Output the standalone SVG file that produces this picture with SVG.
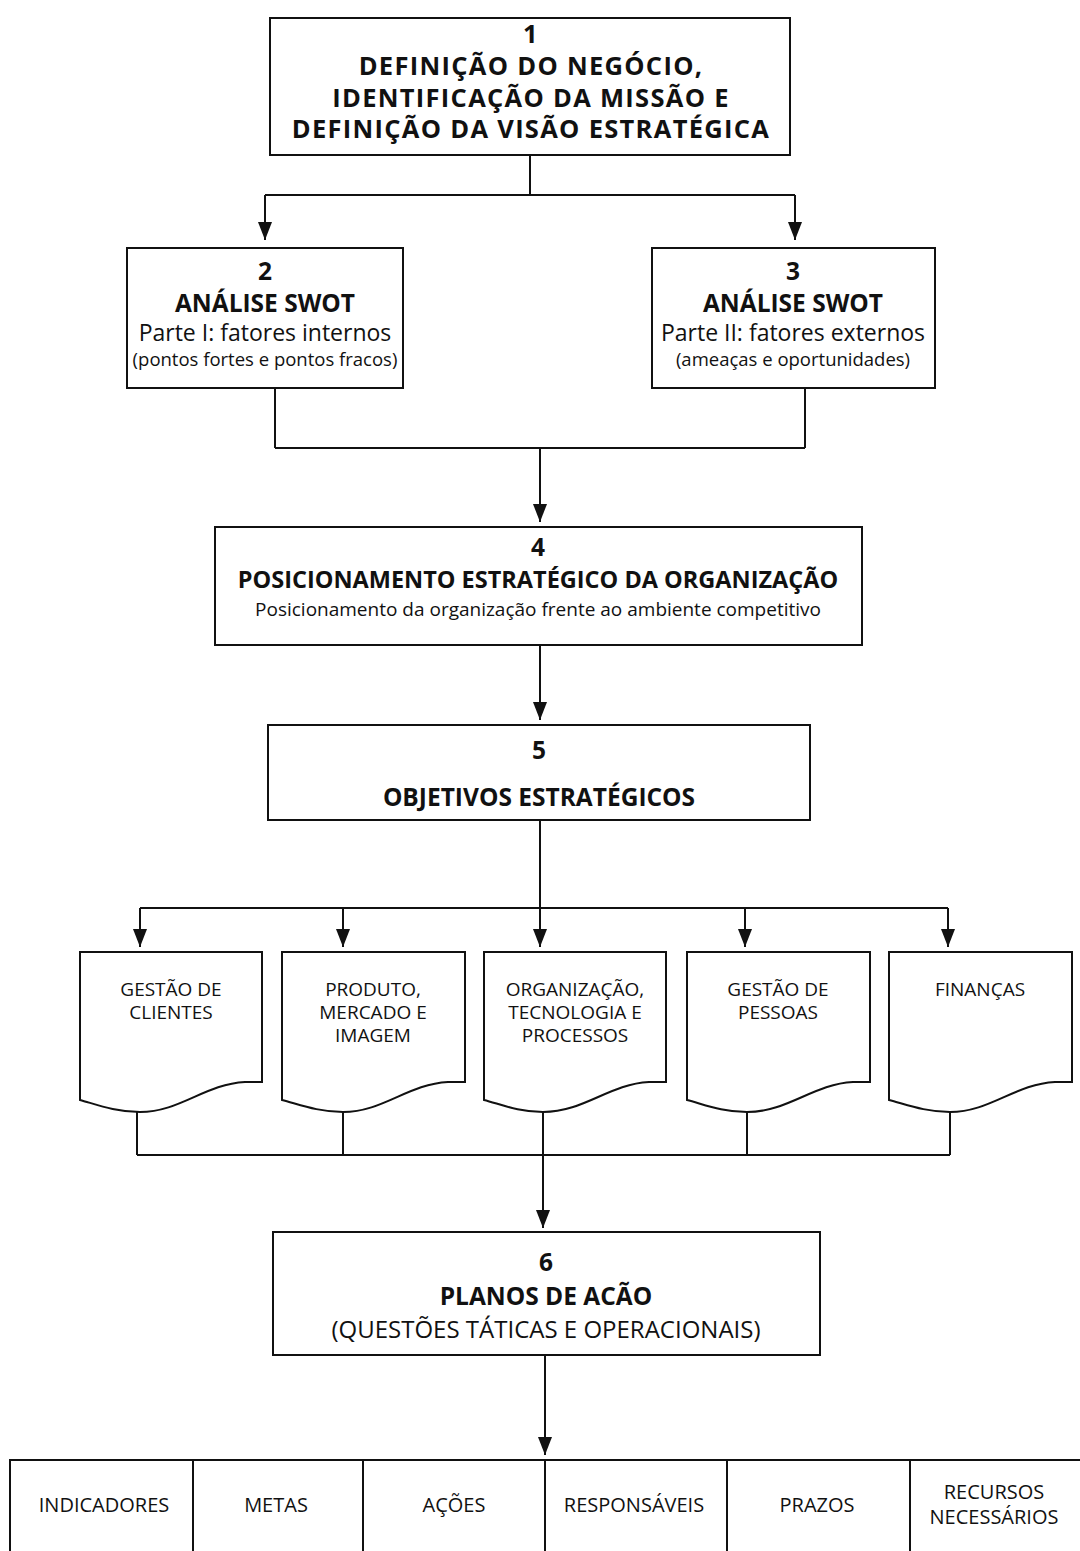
<svg xmlns="http://www.w3.org/2000/svg" width="1080" height="1551" viewBox="0 0 1080 1551">
<defs>
<marker id="ah" viewBox="0 0 18 14" refX="18" refY="7" markerWidth="18" markerHeight="14" markerUnits="userSpaceOnUse" orient="auto">
<path d="M0,0 L18,7 L0,14 Z" fill="#111"/>
</marker>
<style>
.box{fill:#fff;stroke:#111;stroke-width:2}
.ln{fill:none;stroke:#111;stroke-width:2}
.ar{fill:none;stroke:#111;stroke-width:2}
text{font-family:"Open Sans","Noto Sans","Liberation Sans",sans-serif;fill:#111;text-anchor:middle}
.b{font-weight:bold}
.t0{font-size:25.5px;letter-spacing:1.3px}
.t1{font-size:24.5px}
.t2{font-size:23px}
.t3{font-size:18.5px}
.t4{font-size:19px}
.t5{font-size:20px}
</style>
</defs>
<rect width="1080" height="1551" fill="#fff"/>

<g id="connectors">
<path class="ln" d="M530,155 V195 M265,195 H795"/>
<path class="ar" d="M265,195 V240" marker-end="url(#ah)"/>
<path class="ar" d="M795,195 V240" marker-end="url(#ah)"/>
<path class="ln" d="M275,388 V448 M805,388 V448 M275,448 H805"/>
<path class="ar" d="M540,448 V522" marker-end="url(#ah)"/>
<path class="ar" d="M540,645 V720" marker-end="url(#ah)"/>
<path class="ln" d="M540,820 V908 M140,908 H948"/>
<path class="ar" d="M140,908 V947" marker-end="url(#ah)"/>
<path class="ar" d="M343,908 V947" marker-end="url(#ah)"/>
<path class="ar" d="M540,908 V947" marker-end="url(#ah)"/>
<path class="ar" d="M745,908 V947" marker-end="url(#ah)"/>
<path class="ar" d="M948,908 V947" marker-end="url(#ah)"/>
<path class="ln" d="M137,1112 V1155 M343,1112 V1155 M543,1112 V1155 M747,1112 V1155 M950,1112 V1155 M137,1155 H950"/>
<path class="ar" d="M543,1155 V1228" marker-end="url(#ah)"/>
<path class="ar" d="M545,1355 V1455" marker-end="url(#ah)"/>
</g>

<g id="n1">
<rect class="box" x="270" y="18" width="520" height="137"/>
<text class="b t0" x="531" y="43">1</text>
<text class="b t0" x="531" y="75">DEFINIÇÃO DO NEGÓCIO,</text>
<text class="b t0" x="531" y="107">IDENTIFICAÇÃO DA MISSÃO E</text>
<text class="b t0" x="531" y="138">DEFINIÇÃO DA VISÃO ESTRATÉGICA</text>
</g>

<g id="n2">
<rect class="box" x="127" y="248" width="276" height="140"/>
<text class="b t1" x="265" y="280">2</text>
<text class="b t1" x="265" y="312">ANÁLISE SWOT</text>
<text class="t2" x="265" y="341">Parte I: fatores internos</text>
<text class="t3" x="265" y="366">(pontos fortes e pontos fracos)</text>
</g>

<g id="n3">
<rect class="box" x="652" y="248" width="283" height="140"/>
<text class="b t1" x="793" y="280">3</text>
<text class="b t1" x="793" y="312">ANÁLISE SWOT</text>
<text class="t2" x="793" y="341">Parte II: fatores externos</text>
<text class="t3" x="793" y="366">(ameaças e oportunidades)</text>
</g>

<g id="n4">
<rect class="box" x="215" y="527" width="647" height="118"/>
<text class="b t1" x="538" y="556">4</text>
<text class="b" style="font-size:23.5px" x="538" y="588">POSICIONAMENTO ESTRATÉGICO DA ORGANIZAÇÃO</text>
<text style="font-size:19px" x="538" y="616">Posicionamento da organização frente ao ambiente competitivo</text>
</g>

<g id="n5">
<rect class="box" x="268" y="725" width="542" height="95"/>
<text class="b t1" x="539" y="759">5</text>
<text class="b t1" x="539" y="806">OBJETIVOS ESTRATÉGICOS</text>
</g>

<g id="d1">
<path class="box" d="M80,952 H262 V1082 H245 C205,1084 180,1112 140,1112 C115,1112 95,1104 80,1100 Z"/>
<text class="t4" x="171" y="996">GESTÃO DE</text>
<text class="t4" x="171" y="1019">CLIENTES</text>
</g>
<g id="d2">
<path class="box" d="M282,952 H465 V1082 H448 C408,1084 383,1112 343,1112 C318,1112 298,1104 282,1100 Z"/>
<text class="t4" x="373" y="996">PRODUTO,</text>
<text class="t4" x="373" y="1019">MERCADO E</text>
<text class="t4" x="373" y="1042">IMAGEM</text>
</g>
<g id="d3">
<path class="box" d="M484,952 H666 V1082 H649 C609,1084 584,1112 543,1112 C518,1112 500,1104 484,1100 Z"/>
<text class="t4" x="575" y="996">ORGANIZAÇÃO,</text>
<text class="t4" x="575" y="1019">TECNOLOGIA E</text>
<text class="t4" x="575" y="1042">PROCESSOS</text>
</g>
<g id="d4">
<path class="box" d="M687,952 H870 V1082 H853 C813,1084 788,1112 747,1112 C722,1112 703,1104 687,1100 Z"/>
<text class="t4" x="778" y="996">GESTÃO DE</text>
<text class="t4" x="778" y="1019">PESSOAS</text>
</g>
<g id="d5">
<path class="box" d="M889,952 H1072 V1082 H1055 C1015,1084 990,1112 950,1112 C925,1112 905,1104 889,1100 Z"/>
<text class="t4" x="980" y="996">FINANÇAS</text>
</g>

<g id="n6">
<rect class="box" x="273" y="1232" width="547" height="123"/>
<text class="b t1" x="546" y="1271">6</text>
<text class="b t1" x="546" y="1305">PLANOS DE ACÃO</text>
<text style="font-size:24px" x="546" y="1338">(QUESTÕES TÁTICAS E OPERACIONAIS)</text>
</g>

<g id="table">
<rect class="box" x="10" y="1460" width="1080" height="110"/>
<path class="ln" d="M193,1460 V1551 M363,1460 V1551 M545,1460 V1551 M727,1460 V1551 M910,1460 V1551"/>
<text class="t5" x="104" y="1512">INDICADORES</text>
<text class="t5" x="276" y="1512">METAS</text>
<text class="t5" x="454" y="1512">AÇÕES</text>
<text class="t5" x="634" y="1512">RESPONSÁVEIS</text>
<text class="t5" x="817" y="1512">PRAZOS</text>
<text class="t5" x="994" y="1499">RECURSOS</text>
<text class="t5" x="994" y="1524">NECESSÁRIOS</text>
</g>
</svg>
